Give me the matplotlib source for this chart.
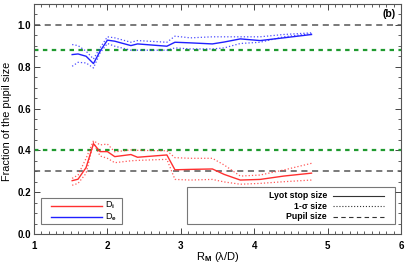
from matplotlib import pyplot as plt
from matplotlib.patches import Rectangle
from matplotlib.ticker import MultipleLocator

plt.rcParams['font.family'] = ['Liberation Sans', 'DejaVu Sans']
plt.rcParams['font.weight'] = 'bold'
plt.rcParams['mathtext.fontset'] = 'custom'
plt.rcParams['mathtext.rm'] = 'Liberation Sans'
plt.rcParams['mathtext.bf'] = 'Liberation Sans:bold'

# Inner Lyot stop size D_i
di_x = [1.52, 1.60, 1.71, 1.81, 1.90, 2.00, 2.10, 2.32, 2.41, 2.81, 2.92,
        3.13, 3.43, 3.59, 3.81, 4.08, 4.40, 4.78]
di_y = [0.255, 0.262, 0.318, 0.432, 0.394, 0.394, 0.370, 0.380, 0.367,
        0.378, 0.307, 0.309, 0.311, 0.285, 0.258, 0.261, 0.277, 0.291]
di_hi = [0.266, 0.282, 0.362, 0.446, 0.426, 0.430, 0.393, 0.402, 0.400,
         0.398, 0.365, 0.362, 0.362, 0.330, 0.277, 0.282, 0.306, 0.338]
di_lo = [0.233, 0.242, 0.290, 0.437, 0.373, 0.362, 0.341, 0.350, 0.352,
         0.357, 0.261, 0.258, 0.261, 0.249, 0.238, 0.242, 0.250, 0.258]

# Outer Lyot stop size D_e
de_y = [0.858, 0.861, 0.850, 0.815, 0.874, 0.927, 0.922, 0.901, 0.909,
        0.898, 0.917, 0.914, 0.909, 0.918, 0.933, 0.925, 0.938, 0.954]
de_hi = [0.906, 0.901, 0.874, 0.837, 0.890, 0.943, 0.938, 0.917, 0.925,
         0.917, 0.946, 0.938, 0.943, 0.943, 0.943, 0.943, 0.954, 0.962]
de_lo = [0.802, 0.821, 0.818, 0.794, 0.866, 0.911, 0.898, 0.879, 0.879,
         0.879, 0.890, 0.885, 0.885, 0.890, 0.911, 0.917, 0.943, 0.958]

pupil_levels = [1.0, 0.3]
green_levels = [0.88, 0.40]

RED = '#ff3030'
BLUE = '#2020ff'
GRAY = '#555555'
GREEN = '#1f9a2f'

fig = plt.figure(figsize=(4.07, 2.65), dpi=100)
ax = fig.add_axes([0.0835, 0.117, 0.902, 0.868])

for level in pupil_levels:
    ax.axhline(level, color=GRAY, linestyle=(0, (4, 3)), linewidth=1.1)
for level in green_levels:
    ax.axhline(level, color=GREEN, linestyle=(0, (2, 2)), linewidth=1.6)

ax.plot(di_x, di_y, color=RED, linewidth=1.0)
ax.plot(di_x, di_hi, color=RED, linestyle=':', linewidth=0.9, alpha=0.8)
ax.plot(di_x, di_lo, color=RED, linestyle=':', linewidth=0.9, alpha=0.8)
ax.plot(di_x, de_y, color=BLUE, linewidth=1.0)
ax.plot(di_x, de_hi, color=BLUE, linestyle=':', linewidth=0.9, alpha=0.8)
ax.plot(di_x, de_lo, color=BLUE, linestyle=':', linewidth=0.9, alpha=0.8)

ax.set_xlim(1, 6)
ax.set_ylim(0, 1.1)
ax.xaxis.set_major_locator(MultipleLocator(1))
ax.xaxis.set_minor_locator(MultipleLocator(0.1))
ax.yaxis.set_major_locator(MultipleLocator(0.2))
ax.yaxis.set_minor_locator(MultipleLocator(0.05))
ax.tick_params(which='both', direction='in', top=True, right=True,
               labelsize=7, colors='#444444', labelcolor='black')
ax.tick_params(axis='x', pad=5)
ax.tick_params(axis='y', pad=2)
ax.tick_params(which='major', length=4, width=0.7)
ax.tick_params(which='minor', length=2, width=0.6)
for spine in ax.spines.values():
    spine.set_color('#555555')
    spine.set_linewidth(0.8)

ax.set_xlabel(r'R$_\mathbf{M}$ (λ/D)', fontsize=8)
ax.xaxis.set_label_coords(0.5, -0.07)
ax.set_ylabel('Fraction of the pupil size', fontsize=7.8)
ax.yaxis.set_label_coords(-0.06, 0.49)
ax.text(0.985, 0.955, '(b)', transform=ax.transAxes, ha='right', va='center',
        fontsize=7.5)

# left legend
tr = ax.transAxes
ax.add_patch(Rectangle((0.018, 0.042), 0.221, 0.113, transform=tr, fill=False,
                       edgecolor='#777777', linewidth=0.8))
ax.plot([0.047, 0.185], [0.122, 0.122], transform=tr, color=RED, linewidth=1.0)
ax.plot([0.047, 0.185], [0.073, 0.073], transform=tr, color=BLUE, linewidth=1.0)
ax.text(0.193, 0.124, r'D$_\mathrm{i}$', transform=tr, fontsize=6.6,
        va='center', weight='normal')
ax.text(0.193, 0.073, r'D$_\mathbf{e}$', transform=tr, fontsize=6.6,
        va='center', weight='normal')

# right legend
ax.add_patch(Rectangle((0.418, 0.042), 0.565, 0.161, transform=tr, fill=False,
                       edgecolor='#777777', linewidth=0.8))
rows = [('Lyot stop size', '-', 0.167), ('1-σ size', ':', 0.121),
        ('Pupil size', (0, (4, 3)), 0.076)]
for label, style, ypos in rows:
    ax.text(0.798, ypos, label, transform=tr, ha='right', va='center',
            fontsize=6.3)
    ax.plot([0.815, 0.954], [ypos, ypos], transform=tr, color='#333333',
            linestyle=style, linewidth=0.8)

fig.savefig('out.png', dpi=100)
